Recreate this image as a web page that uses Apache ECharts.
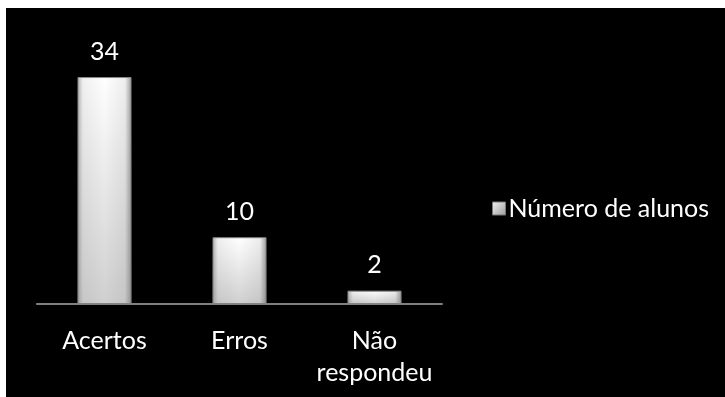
<!DOCTYPE html>
<html>
<head>
<meta charset="utf-8">
<script src="https://cdn.jsdelivr.net/npm/echarts@6/dist/echarts.min.js"></script>
<style>
  html, body { margin: 0; padding: 0; background: #ffffff; }
  #chart { position: absolute; left: 6px; top: 8px; width: 719px; height: 389px; }
</style>
</head>
<body>
<div id="chart"></div>
<script>
// Quiz results: number of students per answer outcome
const categories = ['Acertos', 'Erros', 'Não\nrespondeu'];
const seriesName = 'Número de alunos';
const values = [34, 10, 2];

const fontFamily = 'Lato, "Open Sans", sans-serif';

// horizontal bevel: darker edges, bright middle
const barFill = new echarts.graphic.LinearGradient(0, 0, 1, 0, [
  { offset: 0, color: '#b0b0b0' },
  { offset: 0.1, color: '#f0f0f0' },
  { offset: 0.5, color: '#ffffff' },
  { offset: 0.88, color: '#eeeeee' },
  { offset: 1, color: '#9c9c9c' }
]);
// vertical shading laid over the bars: clear at top, grey toward the base
const barShade = new echarts.graphic.LinearGradient(0, 0, 0, 1, [
  { offset: 0, color: 'rgba(120,120,120,0)' },
  { offset: 1, color: 'rgba(120,120,120,0.35)' }
]);
const legendIcon = new echarts.graphic.LinearGradient(0, 0, 1, 1, [
  { offset: 0, color: '#f4f4f4' },
  { offset: 1, color: '#9a9a9a' }
]);

const chart = echarts.init(document.getElementById('chart'));
chart.setOption({
  backgroundColor: '#000000',
  animation: false,
  grid: { left: 31, top: 29, width: 405, height: 267, containLabel: false },
  legend: {
    data: [{ name: seriesName, icon: 'rect', itemStyle: { color: legendIcon, borderColor: '#777', borderWidth: 1 } }],
    left: 481,
    top: 183,
    itemWidth: 13,
    itemHeight: 13,
    itemGap: 6,
    textStyle: { color: '#ffffff', fontSize: 25, fontFamily, padding: [0, 0, 0, -2] }
  },
  xAxis: {
    type: 'category',
    data: categories,
    axisLine: { lineStyle: { color: '#808080', width: 2 } },
    axisTick: { show: false },
    axisLabel: { interval: 0, color: '#ffffff', fontSize: 25, fontFamily, margin: 21, lineHeight: 32 }
  },
  yAxis: {
    type: 'value',
    min: 0,
    max: 40,
    show: false,
    splitLine: { show: false }
  },
  series: [{
    name: seriesName,
    type: 'bar',
    data: values,
    barWidth: '40%',
    itemStyle: {
      color: barFill,
      borderColor: '#8a8a8a',
      borderWidth: 1
    },
    label: {
      show: true,
      position: 'top',
      distance: 13,
      color: '#ffffff',
      fontSize: 25,
      fontFamily
    }
  }, {
    name: 'shade',
    type: 'bar',
    data: values,
    barWidth: '40%',
    barGap: '-100%',
    silent: true,
    itemStyle: { color: barShade }
  }]
});
</script>
</body>
</html>
